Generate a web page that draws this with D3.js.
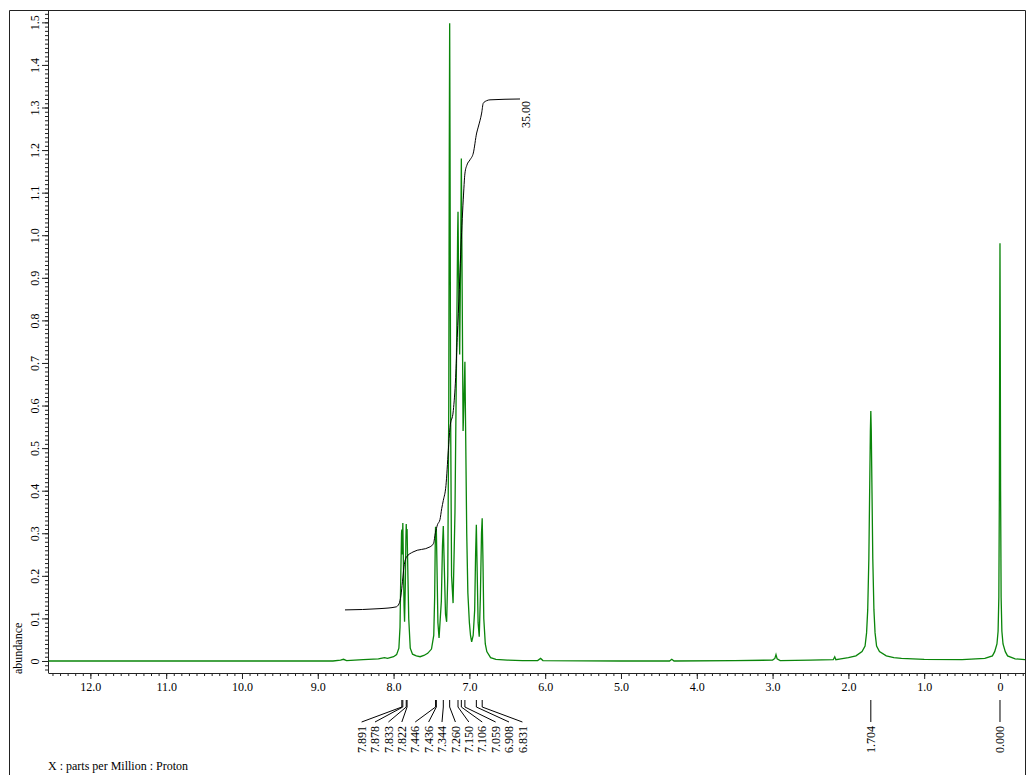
<!DOCTYPE html>
<html lang="en">
<head>
  <meta charset="UTF-8" />
  <script src="https://d3js.org/d3.v7.min.js"></script>
  <title>1H NMR</title>
  <style>
    html, body { margin: 0; padding: 0; background: #fff; }
    svg { display: block; }
    text { font-family: "Liberation Serif", "Times New Roman", serif; }
  </style>
</head>
<body>
<svg id="chart" width="1026" height="775"></svg>
<script>
// spectrum trace (ppm, abundance)
var specPpm = [12.55, 8.80, 8.70, 8.66, 8.62, 8.40, 8.20, 8.12, 8.08, 8.00, 7.96, 7.93,
  7.915, 7.905, 7.895, 7.891, 7.886, 7.882, 7.878, 7.872, 7.862, 7.855, 7.845, 7.838, 7.833, 7.828, 7.822,
  7.815, 7.80, 7.78, 7.75, 7.70, 7.65, 7.60, 7.55, 7.50, 7.47, 7.458, 7.45, 7.446, 7.441, 7.436,
  7.43, 7.415, 7.40, 7.37, 7.355, 7.344, 7.335, 7.315, 7.30, 7.285, 7.272, 7.265, 7.26, 7.255,
  7.248, 7.235, 7.215, 7.19, 7.165, 7.155, 7.15, 7.142, 7.128, 7.115, 7.106, 7.098, 7.083, 7.07,
  7.059, 7.05, 7.035, 7.02, 7.00, 6.985, 6.97, 6.95, 6.93, 6.918, 6.908, 6.898, 6.885, 6.87,
  6.855, 6.84, 6.831, 6.822, 6.81, 6.79, 6.77, 6.72, 6.65, 6.50, 6.30, 6.10, 6.06, 6.03,
  5.00, 4.36, 4.33, 4.30, 3.50, 3.00, 2.97, 2.955, 2.94, 2.90, 2.50, 2.20, 2.18, 2.165, 2.10,
  2.00, 1.90, 1.82, 1.78, 1.76, 1.745, 1.73, 1.718, 1.71, 1.704, 1.698, 1.69, 1.678, 1.663,
  1.648, 1.628, 1.59, 1.50, 1.40, 1.30, 1.00, 0.50, 0.20, 0.10, 0.07, 0.04, 0.025, 0.015,
  0.008, 0.003, 0.000, -0.003, -0.008, -0.015, -0.025, -0.04, -0.07, -0.10, -0.20, -0.33];
var specAbund = [0.000, 0.000, 0.002, 0.004, 0.001, 0.003, 0.005, 0.008, 0.006, 0.010, 0.015, 0.030,
  0.080, 0.200, 0.300, 0.309, 0.250, 0.280, 0.324, 0.250, 0.130, 0.092, 0.180, 0.280, 0.322, 0.290, 0.310,
  0.240, 0.100, 0.030, 0.016, 0.012, 0.010, 0.013, 0.018, 0.028, 0.060, 0.150, 0.280, 0.315, 0.290, 0.310,
  0.250, 0.090, 0.054, 0.140, 0.270, 0.317, 0.250, 0.110, 0.092, 0.200, 0.600, 1.200, 1.498, 1.200,
  0.600, 0.200, 0.136, 0.350, 0.800, 1.000, 1.055, 0.900, 0.720, 0.950, 1.180, 0.950, 0.540, 0.620,
  0.703, 0.550, 0.300, 0.160, 0.090, 0.060, 0.045, 0.060, 0.120, 0.250, 0.320, 0.220, 0.090, 0.057,
  0.150, 0.300, 0.335, 0.250, 0.100, 0.040, 0.022, 0.008, 0.004, 0.002, 0.001, 0.001, 0.006, 0.001,
  0.000, 0.000, 0.004, 0.000, 0.001, 0.002, 0.006, 0.015, 0.005, 0.001, 0.002, 0.003, 0.010, 0.003, 0.005,
  0.008, 0.012, 0.022, 0.035, 0.066, 0.120, 0.240, 0.420, 0.540, 0.587, 0.540, 0.420, 0.240, 0.120,
  0.066, 0.035, 0.022, 0.012, 0.008, 0.006, 0.004, 0.003, 0.006, 0.012, 0.022, 0.040, 0.070, 0.150,
  0.400, 0.800, 0.981, 0.800, 0.400, 0.150, 0.070, 0.040, 0.022, 0.012, 0.005, 0.003];

// integral curve (ppm, height on the abundance scale)
var intPpm = [8.641, 8.179, 7.968, 7.929, 7.902, 7.883, 7.863, 7.830, 7.744, 7.520, 7.474, 7.447,
  7.421, 7.388, 7.365, 7.344, 7.309, 7.278, 7.256, 7.212, 7.181, 7.160, 7.133, 7.115, 7.081, 7.058,
  7.032, 6.992, 6.948, 6.904, 6.883, 6.838, 6.817, 6.772, 6.728, 6.332];
var intVal = [0.120, 0.123, 0.127, 0.134, 0.155, 0.186, 0.221, 0.244, 0.256, 0.268, 0.276, 0.302,
  0.320, 0.332, 0.358, 0.377, 0.412, 0.494, 0.548, 0.588, 0.666, 0.760, 0.872, 0.954, 1.083, 1.146,
  1.165, 1.177, 1.193, 1.240, 1.254, 1.287, 1.310, 1.316, 1.318, 1.320];
var integralLabel = "35.00";

// peak picks
var peakPpm = [7.891, 7.878, 7.833, 7.822, 7.446, 7.436, 7.344, 7.260, 7.150, 7.106, 7.059, 6.908, 6.831, 1.704, 0.000];
var peakText = ["7.891", "7.878", "7.833", "7.822", "7.446", "7.436", "7.344", "7.260", "7.150", "7.106", "7.059", "6.908", "6.831", "1.704", "0.000"];

var xTicks = [12, 11, 10, 9, 8, 7, 6, 5, 4, 3, 2, 1, 0];
var yTicks = [0, 0.1, 0.2, 0.3, 0.4, 0.5, 0.6, 0.7, 0.8, 0.9, 1.0, 1.1, 1.2, 1.3, 1.4, 1.5];
var xTitle = "X : parts per Million : Proton";
var yTitle = "abundance";

var plot = {left: 48, right: 1025, top: 10, bottom: 673};
var svg = d3.select("#chart");

var x = d3.scaleLinear().domain([12.559, -0.33]).range([plot.left, plot.right]);
var y = d3.scaleLinear().domain([-0.0282, 1.529]).range([plot.bottom, plot.top]);

// outer frame
svg.append("path")
  .attr("d", "M9.5,776 V10.5 H1025.5 V776")
  .attr("fill", "none").attr("stroke", "#222").attr("stroke-width", 1);

svg.append("defs").append("clipPath").attr("id", "clip")
  .append("rect").attr("x", plot.left).attr("y", plot.top)
  .attr("width", plot.right - plot.left).attr("height", plot.bottom - plot.top);

// x axis: minor ticks every 0.1 ppm, major every 1
var minorX = d3.range(0, 126).map(function(i) { return i / 10; }).filter(function(v) { return v <= 12.55; });
minorX.push(-0.1, -0.2, -0.3);
svg.append("g").attr("transform", "translate(0," + plot.bottom + ")")
  .call(d3.axisBottom(x).tickValues(minorX).tickSize(3).tickFormat(""))
  .call(function(g) { g.select(".domain").remove(); });
var gx = svg.append("g").attr("transform", "translate(0," + plot.bottom + ")")
  .call(d3.axisBottom(x).tickValues(xTicks).tickSize(6).tickSizeOuter(0)
    .tickFormat(function(d) { return d === 0 ? "0" : d3.format(".1f")(d); }));
gx.selectAll("text").attr("font-size", 12).attr("fill", "#000")
  .attr("font-family", "Liberation Serif, serif").attr("y", 9);

// y axis: minor every 0.01, major every 0.1
var minorY = d3.range(-2, 153).map(function(i) { return i / 100; });
svg.append("g").attr("transform", "translate(" + plot.left + ",0)")
  .call(d3.axisLeft(y).tickValues(minorY).tickSize(3).tickFormat(""))
  .call(function(g) { g.select(".domain").remove(); });
var gy = svg.append("g").attr("transform", "translate(" + plot.left + ",0)")
  .call(d3.axisLeft(y).tickValues(yTicks).tickSize(6).tickSizeOuter(0)
    .tickFormat(function(d) { return d === 0 ? "0" : d3.format(".1f")(d); }));
gy.select(".domain").remove();
gy.selectAll("text")
  .attr("font-size", 12).attr("fill", "#000").attr("font-family", "Liberation Serif, serif")
  .attr("x", null).attr("dy", null).attr("text-anchor", "middle")
  .attr("transform", "translate(-13,0) rotate(-90)").attr("dy", "0.35em");

svg.selectAll(".tick line").attr("stroke", "#222");
svg.append("line").attr("x1", plot.left + 0.5).attr("x2", plot.left + 0.5)
  .attr("y1", plot.top).attr("y2", plot.bottom).attr("stroke", "#222");
gx.select(".domain").attr("stroke", "#222");

// spectrum
var spec = specPpm.map(function(p, i) { return [p, specAbund[i]]; });
svg.append("path").datum(spec)
  .attr("clip-path", "url(#clip)")
  .attr("fill", "none").attr("stroke", "#0a850a").attr("stroke-width", 1.3)
  .attr("d", d3.line().x(function(d) { return x(d[0]); }).y(function(d) { return y(d[1]); }));

// integral
var integ = intPpm.map(function(p, i) { return [p, intVal[i]]; });
svg.append("path").datum(integ)
  .attr("fill", "none").attr("stroke", "#000").attr("stroke-width", 1)
  .attr("d", d3.line().curve(d3.curveMonotoneX)
    .x(function(d) { return x(d[0]); }).y(function(d) { return y(d[1]); }));
var last = integ[integ.length - 1];
svg.append("text")
  .attr("transform", "translate(" + (x(last[0]) + 6) + "," + (y(last[1]) + 2) + ") rotate(-90)")
  .attr("text-anchor", "end").attr("dy", "0.35em").attr("font-size", 12)
  .text(integralLabel);

// peak labels: merge overlapping runs and spread them evenly around the run centre
var gap = 13.4;
var peaks = peakPpm.map(function(p, i) { return {px: x(p), text: peakText[i]}; })
  .sort(function(a, b) { return a.px - b.px; });
var groups = peaks.map(function(p) { return [p]; });
function place(g) {
  var mid = (g[0].px + g[g.length - 1].px) / 2;
  g.forEach(function(p, i) { p.lx = mid + (i - (g.length - 1) / 2) * gap; });
}
groups.forEach(place);
var merged = true;
while (merged) {
  merged = false;
  for (var i = 0; i < groups.length - 1; i++) {
    var a = groups[i], b = groups[i + 1];
    if (b[0].lx - a[a.length - 1].lx < gap) {
      groups.splice(i, 2, a.concat(b));
      place(groups[i]);
      merged = true;
      break;
    }
  }
}

var yTop = plot.bottom + 27, yBend = plot.bottom + 34, yEnd = plot.bottom + 49;
var gl = svg.append("g");
gl.selectAll("path").data(peaks).join("path")
  .attr("fill", "none").attr("stroke", "#000").attr("stroke-width", 1)
  .attr("d", function(d) {
    if (Math.abs(d.lx - d.px) < 0.5) return "M" + d.px + "," + yTop + "V" + yEnd;
    return "M" + d.px + "," + yTop + "V" + yBend + "L" + d.lx + "," + yEnd;
  });
gl.selectAll("text").data(peaks).join("text")
  .attr("transform", function(d) { return "translate(" + d.lx + "," + (yEnd + 4) + ") rotate(-90)"; })
  .attr("text-anchor", "end").attr("dy", "0.35em").attr("font-size", 12)
  .text(function(d) { return d.text; });

// titles
svg.append("text").attr("x", plot.left).attr("y", 770).attr("font-size", 12).text(xTitle);
svg.append("text")
  .attr("transform", "translate(18,674) rotate(-90)")
  .attr("dy", "0.35em").attr("font-size", 12).text(yTitle);
</script>
</body>
</html>
